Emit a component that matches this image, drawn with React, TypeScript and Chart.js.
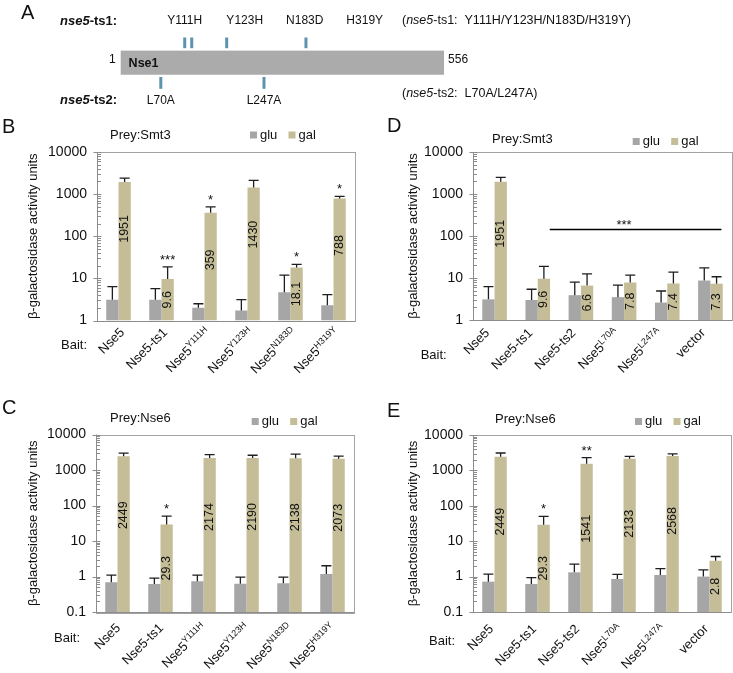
import React, { useEffect, useRef } from "react";
import { Chart, registerables } from "chart.js";

Chart.register(...registerables);

const W = 733;
const H = 673;
const FONT = "'Liberation Sans', Arial, Helvetica, sans-serif";
const INK = "#111111";
const GLU_COLOR = "#a6a6a6";
const GAL_COLOR = "#c4bd97";
const AXIS_COLOR = "#8c8c8c";
const FRAME_COLOR = "#a3a3a3";
const ERR_COLOR = "#1e1e1e";
const DOMAIN_COLOR = "#ababab";
const SITE_COLOR = "#5f93ad";

// ---------- Panel A data ----------
const proteinName = "Nse1";
const proteinSpan = [1, 556];
const alleleNames = ["nse5-ts1", "nse5-ts2"];
const ts1Mutations = ["Y111H", "Y123H", "N183D", "H319Y"];
const ts2Mutations = ["L70A", "L247A"];

// ---------- bait categories ----------
const mutantBaits = ["Nse5", "Nse5-ts1", "Nse5^Y111H", "Nse5^Y123H", "Nse5^N183D", "Nse5^H319Y"];
const ts2Baits = ["Nse5", "Nse5-ts1", "Nse5-ts2", "Nse5^L70A", "Nse5^L247A", "vector"];
const seriesNames = ["glu", "gal"];
const smt3Range = [1, 10000];
const nse6Range = [0.1, 10000];

// ---------- B: prey Smt3, point mutants ----------
const smt3MutGlu = [3.1, 3.1, 2.0, 1.73, 4.7, 2.3];
const smt3MutGluSd = [3.3, 2.6, 0.5, 1.4, 7.3, 1.8];
const smt3MutGal = [1951, 9.6, 359, 1430, 18.1, 788];
const smt3MutGalSd = [450, 9.2, 141, 700, 3.3, 92];
const smt3MutSig = ["", "***", "*", "", "*", "*"];

// ---------- D: prey Smt3, ts2 ----------
const smt3Ts2Glu = [3.1, 3.0, 3.9, 3.5, 2.6, 8.7];
const smt3Ts2GluSd = [3.1, 2.4, 4.1, 3.3, 2.3, 8.8];
const smt3Ts2Gal = [1951, 9.6, 6.6, 7.8, 7.4, 7.3];
const smt3Ts2GalSd = [550, 9.3, 6.0, 3.9, 6.4, 3.4];
const smt3Ts2Sig = ["", "", "", "", "", ""];
const smt3Ts2Bracket = { from: 1, to: 5, value: 150, text: "***" };

// ---------- C: prey Nse6, point mutants ----------
const nse6MutGlu = [0.69, 0.61, 0.74, 0.62, 0.65, 1.18];
const nse6MutGluSd = [0.41, 0.29, 0.36, 0.34, 0.31, 0.83];
const nse6MutGal = [2449, 29.3, 2174, 2190, 2138, 2073];
const nse6MutGalSd = [550, 21, 530, 410, 660, 380];
const nse6MutSig = ["", "*", "", "", "", ""];

// ---------- E: prey Nse6, ts2 ----------
const nse6Ts2Glu = [0.72, 0.62, 1.32, 0.86, 1.11, 1.0];
const nse6Ts2GluSd = [0.45, 0.32, 0.94, 0.3, 0.56, 0.54];
const nse6Ts2Gal = [2449, 29.3, 1541, 2133, 2568, 2.8];
const nse6Ts2GalSd = [650, 21, 760, 370, 380, 0.9];
const nse6Ts2Sig = ["", "*", "**", "", "", ""];

type Panel = {
  letter: string;
  letterPos: number[];
  prey: string;
  titlePos: number[];
  legendPos: number[];
  baitPos: number[];
  yTitleX: number;
  cats: string[];
  glu: number[];
  gluSd: number[];
  gal: number[];
  galSd: number[];
  sig: string[];
  range: number[];
  area: { left: number; top: number; right: number; bottom: number };
  tickOff: number[];
  labelOffset: number;
  bracket?: { from: number; to: number; value: number; text: string };
};

const panels: Panel[] = [
  {
    letter: "B", letterPos: [2, 127], prey: "Prey:Smt3", titlePos: [110, 135], legendPos: [250, 135],
    baitPos: [87, 345], yTitleX: 33, cats: mutantBaits,
    glu: smt3MutGlu, gluSd: smt3MutGluSd, gal: smt3MutGal, galSd: smt3MutGalSd, sig: smt3MutSig,
    range: smt3Range, area: { left: 97, top: 152, right: 355, bottom: 320.5 }, tickOff: [4, 10], labelOffset: 47,
  },
  {
    letter: "D", letterPos: [387, 126], prey: "Prey:Smt3", titlePos: [492, 139.5], legendPos: [632.7, 141.5],
    baitPos: [446.7, 355], yTitleX: 413, cats: ts2Baits,
    glu: smt3Ts2Glu, gluSd: smt3Ts2GluSd, gal: smt3Ts2Gal, galSd: smt3Ts2GalSd, sig: smt3Ts2Sig,
    range: smt3Range, area: { left: 473, top: 152, right: 732, bottom: 320 }, tickOff: [-7, 11], labelOffset: 52,
    bracket: smt3Ts2Bracket,
  },
  {
    letter: "C", letterPos: [2, 408], prey: "Prey:Nse6", titlePos: [110, 418.5], legendPos: [251.7, 421.5],
    baitPos: [80, 638], yTitleX: 33, cats: mutantBaits,
    glu: nse6MutGlu, gluSd: nse6MutGluSd, gal: nse6MutGal, galSd: nse6MutGalSd, sig: nse6MutSig,
    range: nse6Range, area: { left: 96, top: 434.5, right: 354, bottom: 612 }, tickOff: [1, 14], labelOffset: 59,
  },
  {
    letter: "E", letterPos: [387, 411], prey: "Prey:Nse6", titlePos: [495, 419.5], legendPos: [635, 421.5],
    baitPos: [455, 641.7], yTitleX: 413, cats: ts2Baits,
    glu: nse6Ts2Glu, gluSd: nse6Ts2GluSd, gal: nse6Ts2Gal, galSd: nse6Ts2GalSd, sig: nse6Ts2Sig,
    range: nse6Range, area: { left: 473, top: 435, right: 731, bottom: 612 }, tickOff: [-3, 15], labelOffset: 65,
  },
];

function txt(ctx: CanvasRenderingContext2D, s: string, x: number, y: number, font: string,
  align: CanvasTextAlign = "left", baseline: CanvasTextBaseline = "middle", color = INK) {
  ctx.font = font;
  ctx.textAlign = align;
  ctx.textBaseline = baseline;
  ctx.fillStyle = color;
  ctx.fillText(s, x, y);
}

function fmtTick(v: number) {
  return v < 1 ? v.toFixed(1) : String(Math.round(v));
}

function panelPlugin(p: Panel) {
  return {
    id: "panel" + p.letter,
    afterDatasetsDraw(chart: any) {
      const ctx: CanvasRenderingContext2D = chart.ctx;
      const a = chart.chartArea;
      const ys = chart.scales.y;
      const xs = chart.scales.x;
      ctx.save();

      // frame
      ctx.strokeStyle = FRAME_COLOR;
      ctx.lineWidth = 1;
      ctx.strokeRect(Math.round(a.left) + 0.5, Math.round(a.top) + 0.5,
        Math.round(a.right - a.left), Math.round(a.bottom - a.top));
      // left axis + bottom axis
      ctx.strokeStyle = AXIS_COLOR;
      ctx.beginPath();
      ctx.moveTo(Math.round(a.left) + 0.5, a.top);
      ctx.lineTo(Math.round(a.left) + 0.5, a.bottom);
      ctx.moveTo(a.left, Math.round(a.bottom) + 0.5);
      ctx.lineTo(a.right, Math.round(a.bottom) + 0.5);
      ctx.stroke();

      // y ticks (log)
      const e0 = Math.round(Math.log10(p.range[0]));
      const e1 = Math.round(Math.log10(p.range[1]));
      const lx = Math.round(a.left) + 0.5;
      ctx.beginPath();
      for (let e = e0; e <= e1; e++) {
        const v = Math.pow(10, e);
        const y = Math.round(ys.getPixelForValue(v)) + 0.5;
        ctx.moveTo(lx - 4, y);
        ctx.lineTo(lx + 4, y);
        if (e < e1) {
          for (let m = 2; m <= 9; m++) {
            const ym = Math.round(ys.getPixelForValue(m * v)) + 0.5;
            ctx.moveTo(lx, ym);
            ctx.lineTo(lx + 3.5, ym);
          }
        }
      }
      ctx.stroke();
      for (let e = e0; e <= e1; e++) {
        const v = Math.pow(10, e);
        txt(ctx, fmtTick(v), a.left - 10, ys.getPixelForValue(v), `14px ${FONT}`, "right");
      }

      // y title
      ctx.save();
      ctx.translate(p.yTitleX, (a.top + a.bottom) / 2);
      ctx.rotate(-Math.PI / 2);
      txt(ctx, "\u03b2-galactosidase activity units", 0, 0, `13px ${FONT}`, "center");
      ctx.restore();

      // error bars (upper only)
      const vals = [p.glu, p.gal];
      const sds = [p.gluSd, p.galSd];
      ctx.strokeStyle = ERR_COLOR;
      ctx.lineWidth = 1.3;
      const capTops: number[] = [];
      for (let d = 0; d < 2; d++) {
        const meta = chart.getDatasetMeta(d);
        meta.data.forEach((bar: any, i: number) => {
          const top = ys.getPixelForValue(vals[d][i] + sds[d][i]);
          if (d === 1) capTops[i] = top;
          ctx.beginPath();
          ctx.moveTo(bar.x, bar.y);
          ctx.lineTo(bar.x, top);
          ctx.moveTo(bar.x - 5, top);
          ctx.lineTo(bar.x + 5, top);
          ctx.stroke();
        });
      }

      // value labels on gal bars + significance stars
      const galMeta = chart.getDatasetMeta(1);
      galMeta.data.forEach((bar: any, i: number) => {
        const h = a.bottom - bar.y;
        const cy = h > 100 ? bar.y + p.labelOffset : (bar.y + a.bottom) / 2;
        ctx.save();
        ctx.translate(bar.x, cy);
        ctx.rotate(-Math.PI / 2);
        txt(ctx, String(p.gal[i]), 0, 0, `12.5px ${FONT}`, "center");
        ctx.restore();
        if (p.sig[i]) txt(ctx, p.sig[i], bar.x, capTops[i] - 3, `13px ${FONT}`, "center", "alphabetic");
      });

      // bracket
      if (p.bracket) {
        const b = p.bracket;
        const x0 = xs.getPixelForValue(b.from) + 12;
        const x1 = xs.getPixelForValue(b.to) + 11;
        const y = Math.round(ys.getPixelForValue(b.value)) + 0.5;
        ctx.strokeStyle = "#000";
        ctx.lineWidth = 1.3;
        ctx.beginPath();
        ctx.moveTo(x0, y);
        ctx.lineTo(x1, y);
        ctx.stroke();
        const xm = (xs.getPixelForValue(b.from) + xs.getPixelForValue(b.to)) / 2;
        txt(ctx, b.text, xm, y - 1, `13px ${FONT}`, "center", "alphabetic");
      }

      // x labels, rotated
      p.cats.forEach((lab, i) => {
        const cx = xs.getPixelForValue(i) + p.tickOff[0];
        const cy = a.bottom + p.tickOff[1];
        const [main, sup] = lab.split("^");
        const fMain = `13px ${FONT}`;
        const fSup = `9px ${FONT}`;
        ctx.font = fMain;
        const wm = ctx.measureText(main).width;
        let ws = 0;
        if (sup) {
          ctx.font = fSup;
          ws = ctx.measureText(sup).width;
        }
        ctx.save();
        ctx.translate(cx, cy);
        ctx.rotate(-Math.PI / 4);
        txt(ctx, main, -(wm + ws), 0, fMain, "left");
        if (sup) txt(ctx, sup, -ws, -3.5, fSup, "left");
        ctx.restore();
      });
      txt(ctx, "Bait:", p.baitPos[0], p.baitPos[1], `13px ${FONT}`, "right");

      // header: title, legend, letter
      txt(ctx, p.prey, p.titlePos[0], p.titlePos[1], `13px ${FONT}`);
      const colors = [GLU_COLOR, GAL_COLOR];
      seriesNames.forEach((n, k) => {
        const x = p.legendPos[0] + k * 38.5;
        ctx.fillStyle = colors[k];
        ctx.fillRect(x, p.legendPos[1] - 3.5, 7, 7);
        txt(ctx, n, x + 10, p.legendPos[1], `13px ${FONT}`);
      });
      txt(ctx, p.letter, p.letterPos[0], p.letterPos[1], `20px ${FONT}`);

      ctx.restore();
    },
  };
}

function makePanel(canvas: HTMLCanvasElement, p: Panel) {
  return new Chart(canvas, {
    type: "bar",
    data: {
      labels: p.cats,
      datasets: [
        { label: seriesNames[0], data: p.glu, backgroundColor: GLU_COLOR, borderWidth: 0, categoryPercentage: 0.57, barPercentage: 1 },
        { label: seriesNames[1], data: p.gal, backgroundColor: GAL_COLOR, borderWidth: 0, categoryPercentage: 0.57, barPercentage: 1 },
      ],
    },
    options: {
      responsive: false,
      animation: false,
      devicePixelRatio: 1,
      events: [],
      layout: { padding: { left: p.area.left, top: p.area.top, right: W - p.area.right, bottom: H - p.area.bottom } },
      scales: {
        x: { type: "category", display: false, offset: true },
        y: { type: "logarithmic", min: p.range[0], max: p.range[1], display: false },
      },
      plugins: { legend: { display: false }, tooltip: { enabled: false }, title: { display: false } },
    },
    plugins: [panelPlugin(p)],
  } as any);
}

function residue(m: string) {
  return parseInt(m.slice(1, -1), 10);
}

function drawAllele(ctx: CanvasRenderingContext2D, name: string, x: number, y: number, size: number, bold: boolean, suffix: string) {
  const [gene, rest] = name.split("-");
  const w = bold ? "bold " : "";
  ctx.font = `italic ${w}${size}px ${FONT}`;
  const wg = ctx.measureText(gene).width;
  txt(ctx, gene, x, y, `italic ${w}${size}px ${FONT}`);
  txt(ctx, "-" + rest + suffix, x + wg, y, `${w}${size}px ${FONT}`);
}

const schemePlugin = {
  id: "scheme",
  afterDatasetsDraw(chart: any) {
    const ctx: CanvasRenderingContext2D = chart.ctx;
    const a = chart.chartArea;
    const xs = chart.scales.x;
    ctx.save();
    txt(ctx, "A", 21, 13.5, `20px ${FONT}`);
    txt(ctx, String(proteinSpan[0]), a.left - 5, (a.top + a.bottom) / 2 - 2.5, `12px ${FONT}`, "right");
    txt(ctx, String(proteinSpan[1]), a.right + 4, (a.top + a.bottom) / 2 - 2.5, `12px ${FONT}`, "left");
    txt(ctx, proteinName, a.left + 8, (a.top + a.bottom) / 2 + 0.5, `bold 12.5px ${FONT}`);

    const rows = [
      { muts: ts1Mutations, tickY0: a.top - 13, tickY1: a.top - 2.3, labY: a.top - 29.5, headY: a.top - 29.5, sumY: a.top - 29.5 },
      { muts: ts2Mutations, tickY0: a.bottom + 2.2, tickY1: a.bottom + 14, labY: a.bottom + 25.7, headY: a.bottom + 25.7, sumY: a.bottom + 18.7 },
    ];
    rows.forEach((r, k) => {
      drawAllele(ctx, alleleNames[k], 60, r.headY, 13, true, ":");
      ctx.fillStyle = SITE_COLOR;
      let lastX = -1e9;
      r.muts.forEach((m) => {
        const x = xs.getPixelForValue(residue(m));
        ctx.fillStyle = SITE_COLOR;
        ctx.fillRect(x - 1.5, r.tickY0, 3, r.tickY1 - r.tickY0);
        const lx = Math.max(x, lastX + 60);
        lastX = lx;
        txt(ctx, m, lx, r.labY, `12px ${FONT}`, "center");
      });
      // summary
      ctx.font = `12.5px ${FONT}`;
      const ow = ctx.measureText("(").width;
      txt(ctx, "(", 402, r.sumY, `12.5px ${FONT}`);
      const [gene, rest] = alleleNames[k].split("-");
      ctx.font = `italic 12.5px ${FONT}`;
      const gw = ctx.measureText(gene).width;
      txt(ctx, gene, 402 + ow, r.sumY, `italic 12.5px ${FONT}`);
      txt(ctx, "-" + rest + ":  " + r.muts.join("/") + ")", 402 + ow + gw, r.sumY, `12.5px ${FONT}`);
    });
    ctx.restore();
  },
};

function makeScheme(canvas: HTMLCanvasElement) {
  return new Chart(canvas, {
    type: "bar",
    data: {
      labels: [proteinName],
      datasets: [{ data: [proteinSpan], backgroundColor: DOMAIN_COLOR, borderWidth: 0, barPercentage: 1, categoryPercentage: 1 }],
    },
    options: {
      indexAxis: "y",
      responsive: false,
      animation: false,
      devicePixelRatio: 1,
      events: [],
      layout: { padding: { left: 120.6, right: W - 444.1, top: 50.5, bottom: H - 74.8 } },
      scales: {
        x: { type: "linear", min: proteinSpan[0], max: proteinSpan[1], display: false },
        y: { type: "category", display: false, offset: true },
      },
      plugins: { legend: { display: false }, tooltip: { enabled: false } },
    },
    plugins: [schemePlugin],
  } as any);
}

function Layer({ make }: { make: (c: HTMLCanvasElement) => Chart }) {
  const ref = useRef<HTMLCanvasElement>(null);
  useEffect(() => {
    const ch = make(ref.current as HTMLCanvasElement);
    return () => ch.destroy();
  }, []);
  return (
    <canvas ref={ref} width={W} height={H}
      style={{ position: "absolute", left: 0, top: 0, width: W, height: H }} />
  );
}

export default function App() {
  return (
    <div style={{ position: "absolute", left: 0, top: 0, width: W, height: H, background: "#ffffff", overflow: "hidden" }}>
      <Layer make={makeScheme} />
      {panels.map((p) => (
        <Layer key={p.letter} make={(c) => makePanel(c, p)} />
      ))}
    </div>
  );
}
